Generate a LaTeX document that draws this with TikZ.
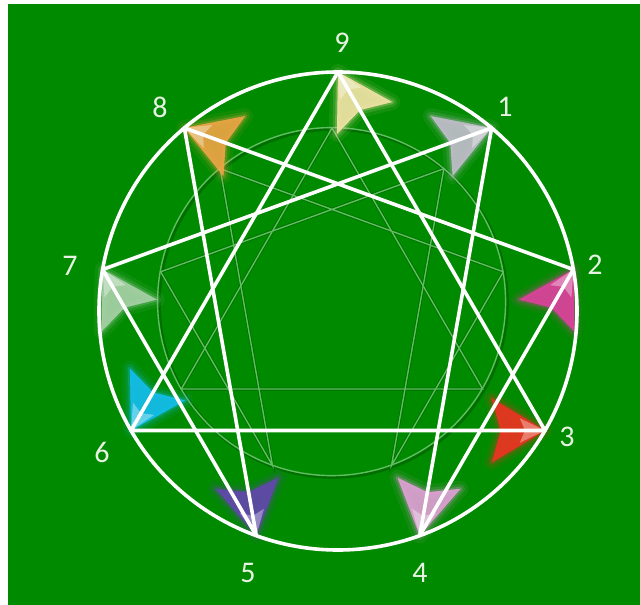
\documentclass[tikz,border=0pt]{standalone}
\usepackage{fontspec}
\setmainfont{Carlito}
\usetikzlibrary{calc}
\definecolor{bg}{RGB}{0,138,0}
\definecolor{bgdark}{RGB}{0,100,0}
\definecolor{bglight}{RGB}{95,190,95}
\definecolor{labc}{RGB}{232,242,226}
\definecolor{c9}{RGB}{245,228,168}
\definecolor{c1}{RGB}{196,190,206}
\definecolor{c2}{RGB}{226,64,160}
\definecolor{c3}{RGB}{240,50,35}
\definecolor{c4}{RGB}{226,160,216}
\definecolor{c5}{RGB}{100,70,176}
\definecolor{c6}{RGB}{20,190,240}
\definecolor{c7}{RGB}{170,210,170}
\definecolor{c8}{RGB}{240,165,70}
\tikzset{
  lab/.style={text=labc, font=\fontsize{30}{30}\selectfont, inner sep=0pt},
  whiteline/.style={draw=white, line width=3.6pt, line join=round},
  innerdark/.style={draw=bgdark, line width=3pt, opacity=0.7},
  innerlight/.style={draw=bglight, line width=1.4pt},
}
\newcommand\dartpath[2]{(p#1) -- ($(p#1)!62pt!31:(p#2)$) -- ($(p#1)!44pt!(p#2)$) -- ($(p#1)!62pt!-31:(p#2)$) -- cycle}
\newcommand\tippath[2]{(p#1) -- ($(p#1)!28pt!26:(p#2)$) -- ($(p#1)!20pt!(p#2)$) -- ($(p#1)!28pt!-26:(p#2)$) -- cycle}
\newcommand\mydart[3]{%
  \path[draw=#3, fill=#3, line width=16pt, line join=round, opacity=0.08] \dartpath{#1}{#2};
  \path[draw=#3, fill=#3, line width=9pt, line join=round, opacity=0.14] \dartpath{#1}{#2};
  \path[draw=#3, fill=#3, line width=4pt, line join=round, opacity=0.25] \dartpath{#1}{#2};
  \path[fill=#3, opacity=0.85] \dartpath{#1}{#2};
  \path[fill=white, opacity=0.35] \tippath{#1}{#2};
}
\begin{document}
\begin{tikzpicture}[x=1pt,y=-1pt]
\useasboundingbox (0,0) rectangle (640,605);
\fill[white] (0,0) rectangle (640,605);
\fill[bg] (8,4) rectangle (640,605);
% points
\foreach \k in {1,...,9} {
  \coordinate (p\k) at ({338+239*cos(90-40*\k)},{311-239*sin(90-40*\k)});
  \coordinate (q\k) at ({332+174*cos(90-40*\k)},{302-174*sin(90-40*\k)});
}
% inner embossed enneagram
\begin{scope}[shift={(1.3,1.3)}]
  \draw[innerdark] (332,302) circle[radius=174];
  \draw[innerdark] (q9) -- (q3) -- (q6) -- cycle;
  \draw[innerdark] (q1) -- (q4) -- (q2) -- (q8) -- (q5) -- (q7) -- cycle;
\end{scope}
\begin{scope}[shift={(-0.4,-0.4)}]
  \draw[innerlight] (332,302) circle[radius=174];
  \draw[innerlight] (q9) -- (q3) -- (q6) -- cycle;
  \draw[innerlight] (q1) -- (q4) -- (q2) -- (q8) -- (q5) -- (q7) -- cycle;
\end{scope}
% arrowheads
\mydart{9}{3}{c9}
\mydart{1}{7}{c1}
\mydart{2}{4}{c2}
\mydart{3}{6}{c3}
\mydart{4}{1}{c4}
\mydart{5}{8}{c5}
\mydart{6}{9}{c6}
\mydart{7}{5}{c7}
\mydart{8}{2}{c8}
% white figure
\draw[whiteline] (338,311) circle[radius=239];
\draw[whiteline] (p9) -- (p3) -- (p6) -- cycle;
\draw[whiteline] (p1) -- (p4) -- (p2) -- (p8) -- (p5) -- (p7) -- cycle;
% labels
\node[lab] (l9) at (342,43) {9};
\node[lab] (l1) at (505,107) {1};
\node[lab] (l2) at (595,265) {2};
\node[lab] (l3) at (567,437) {3};
\node[lab] (l4) at (420,573) {4};
\node[lab] (l5) at (248,573) {5};
\node[lab] (l6) at (102,452) {6};
\node[lab] (l7) at (70,266) {7};
\node[lab] (l8) at (160,107) {8};
\end{tikzpicture}
\end{document}
